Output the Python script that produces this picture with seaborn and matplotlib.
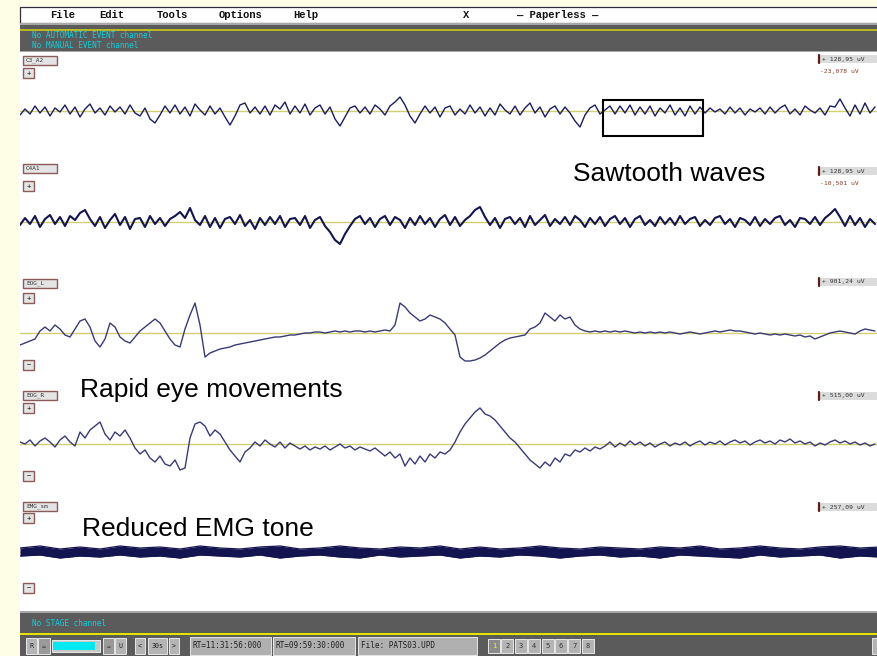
import numpy as np
import pandas as pd
import matplotlib
matplotlib.use("Agg")
import matplotlib.pyplot as plt
import seaborn as sns
from matplotlib.patches import Rectangle

sns.set_theme(style="white")
plt.rcParams['font.family'] = ['Liberation Sans', 'DejaVu Sans']

# ---------------- data ----------------
channels = ["C3_A2", "C4A1", "EOG_L", "EOG_R", "EMG_sm"]
scale_top = ["+ 128,95 uV", "+ 128,95 uV", "+ 901,24 uV", "+ 515,00 uV", "+ 257,09 uV"]
scale_low = ["-23,078 uV", "-10,501 uV", "", "", ""]
menu_items = ["File", "Edit", "Tools", "Options", "Help"]
time_boxes = ["RT=11:31:56:000", "RT=09:59:30:000", "File: PATS03.UPD"]
page_buttons = ["1", "2", "3", "4", "5", "6", "7", "8"]

c3_a2 = [-4, 2, -3, 5, -2, 4, -5, 3, -1, 6,
         -3, 4, -6, 2, 7, -2, 3, -4, 5, -1,
         4, -3, 6, -2, -5, 3, -8, -12, -4, 5,
         -2, 6, -3, 4, -5, 7, 1, -4, 5, -3,
         3, -6, -14, -5, 6, 8, -2, 4, -3, 5,
         -4, 6, 2, 9, -3, 5, -2, 7, -4, 3,
         6, -3, 4, -8, -15, -6, 3, 5, -2, 4,
         -3, 6, 2, -4, 5, 9, 14, 6, -5, -12,
         -3, 5, -2, 4, -6, 3, 5, -4, 2, -3,
         6, -2, 4, -5, 3, -4, 7, 1, -3, 5,
         -4, 3, 8, -2, 4, -6, 2, 5, -3, 4,
         -2, -10, -16, -4, 3, 6, -3, 1, 5, -3,
         5, -2, 6, -4, 4, -3, 5, -5, 3, -2,
         6, -4, 3, -5, 5, -3, 4, -2, 3, -1,
         2, -3, 4, -2, 3, -4, 2, -1, 3, -3,
         4, -2, 3, 6, -3, 2, -4, 5, 1, -2,
         3, -4, 5, 4, 12, 3, -5, 6, -3, 8,
         -2, 4]

c4_a1 = [-3, 4, -2, 6, -5, 3, 7, -2, 5, -4,
         6, 2, 9, 12, 3, -4, 5, -6, 2, 8,
         -3, 5, -7, 3, 4, -5, 6, -2, 4, -4,
         3, 6, 10, 4, 14, 2, -3, 6, -5, 4,
         -6, 3, 5, -2, 7, -4, 2, -7, 4, -3,
         5, -2, 6, -5, 3, 4, -3, 6, -6, 2,
         5, -4, -10, -18, -22, -12, -4, 3, 6, -2,
         4, -5, 3, 6, -3, 5, 2, -6, 4, -3,
         6, -2, 4, -5, 3, 7, -3, 5, -4, 2,
         6, 12, 15, 5, -3, 4, -6, 3, 5, -2,
         4, -5, 6, -3, 2, 7, -4, 3, -2, 5,
         -3, 6, 2, -5, 4, -2, 5, -4, 3, 6,
         -2, 4, -5, 3, 6, -3, 2, -4, 5, -2,
         4, -3, 6, -2, 3, 5, -4, 2, -3, 4,
         6, -2, 3, -5, 4, 2, -3, 5, -4, 3,
         -2, 4, 6, -3, 2, -5, 4, 3, -2, 5,
         -3, 4, 8, 13, 5, -4, 6, -3, 4, -5,
         3, -2]

eog_l = [-12, -10, -8, -6, 2, 6, 2, 8, 4, -2,
         -4, 4, 12, 14, 6, -8, -14, -6, 10, 6,
         -4, -8, -10, -4, 2, 6, 10, 14, 10, 2,
         -6, -12, -14, 4, 18, 30, 8, -24, -20, -18,
         -16, -15, -14, -12, -11, -10, -9, -8, -7, -6,
         -5, -4, -4, -3, -2, -2, -1, 0, 0, 1,
         1, 0, 1, 2, 1, 2, 1, 2, 2, 1,
         2, 1, 2, 3, 2, 8, 30, 26, 20, 16,
         12, 14, 18, 16, 14, 10, 4, -2, -24, -28,
         -28, -27, -25, -22, -18, -14, -10, -7, -5, -4,
         -3, -2, 4, 6, 10, 20, 16, 12, 18, 14,
         16, 8, 4, 2, 1, 2, 1, 2, 1, 2,
         1, 2, 1, 0, 1, 0, 1, 0, 1, 0,
         1, 0, -1, 0, 1, 0, -1, 0, 1, 2,
         1, 2, 3, 2, 2, 1, 0, -1, 0, -1,
         -2, -1, -2, -1, -2, -3, -2, -4, -3, -6,
         -4, -2, 0, 1, 2, 1, 0, -1, 2, 4,
         3, 2]

eog_r = [2, 0, 4, -2, 3, 6, 2, -3, 4, 8,
         2, -2, 12, 6, 14, 18, 22, 10, 4, 12,
         8, 14, 6, -4, -10, -6, -14, -18, -12, -20,
         -22, -16, -26, -24, 6, 20, 22, 18, 8, 14,
         10, 2, -6, -12, -18, -8, -4, 2, -2, 4,
         0, -3, 2, -4, 1, -2, -5, -2, -6, -3,
         -5, -2, -6, -3, 0, -4, -2, -6, -3, -5,
         -7, -4, -8, -12, -8, -14, -10, -22, -14, -20,
         -12, -18, -10, -14, -8, -10, -6, 2, 12, 20,
         26, 32, 36, 30, 28, 24, 18, 12, 6, 2,
         -4, -10, -16, -20, -24, -18, -22, -14, -18, -10,
         -12, -6, -8, -4, -7, -3, -5, -2, 2, -3,
         1, -2, 3, -1, 2, -2, 1, -3, 0, 2,
         -2, 1, -1, 2, -2, 1, 3, -1, 2, 0,
         3, -1, 2, 4, 1, 3, -1, 2, 4, 1,
         3, 0, 4, 2, 5, 1, 3, 0, 2, -2,
         1, -1, 2, 4, 1, 3, 0, 2, -1, 1,
         -2, 0]

emg_upper = [4, 6, 3, 5, 3, 6, 4, 5, 3, 6, 4, 3, 5, 6, 3, 4, 6, 4, 3, 5, 4, 6,
             3, 5, 3, 4, 6, 4, 3, 5, 4, 3, 5, 4, 6, 3, 4, 6, 4, 3, 5, 6, 4, 5]
emg_lower = [-4, -3, -6, -4, -5, -3, -5, -4, -6, -3, -4, -5, -3, -6, -4, -3, -5, -6, -3, -5, -4, -3,
             -6, -4, -5, -3, -4, -6, -4, -3, -5, -4, -6, -3, -4, -5, -6, -3, -5, -4, -3, -6, -4, -5]

# ---------------- figure ----------------
W, H = 878, 656
fig = plt.figure(figsize=(W / 100, H / 100), dpi=100)
fig.patch.set_facecolor("#fefee6")


def px_axes(x0, y0, w, h):
    return fig.add_axes([x0 / W, 1 - (y0 + h) / H, w / W, h / H])


bg = px_axes(0, 0, W, H)
bg.set_xlim(0, W)
bg.set_ylim(H, 0)
bg.axis("off")
bg.patch.set_alpha(0)


def rect(ax, x, y, w, h, fc, ec="none", lw=0.8, z=1):
    ax.add_patch(Rectangle((x, y), w, h, facecolor=fc, edgecolor=ec, linewidth=lw, zorder=z))


GRAY = "#5b5b5b"
CYAN = "#10d0dc"
mono = ["DejaVu Sans Mono"]

# window body
rect(bg, 20, 6, W - 20, H - 6, "white")
# menu bar
rect(bg, 20, 7, W - 20, 16, "white", ec="#303030", lw=0.9, z=2)
menu_x = [50, 99, 157, 219, 293]
for lab, x in zip(menu_items, menu_x):
    bg.text(x, 15.5, lab, family=["Liberation Mono"], fontweight="bold", fontsize=7.6,
            va="center", ha="left", color="#111111", zorder=3)
bg.text(463, 15.5, "X", family=["Liberation Mono"], fontweight="bold", fontsize=7.6,
        va="center", ha="left", color="#111111", zorder=3)
bg.text(517, 15.5, "— Paperless —", family=["Liberation Mono"], fontweight="bold", fontsize=7.6,
        va="center", ha="left", color="#111111", zorder=3)

# top gray event band
rect(bg, 20, 23, W - 20, 29, GRAY, z=2)
rect(bg, 20, 23, W - 20, 1.5, "#a8a8a8", z=3)
rect(bg, 20, 50.5, W - 20, 1.5, "#a8a8a8", z=3)
rect(bg, 20, 29, W - 20, 2.2, "#b8b820", z=3)
bg.text(32, 35, "No AUTOMATIC EVENT channel", family=mono, fontsize=5.6, color=CYAN,
        va="center", ha="left", zorder=4)
bg.text(32, 45, "No MANUAL EVENT channel", family=mono, fontsize=5.6, color=CYAN,
        va="center", ha="left", zorder=4)

# bottom gray band
rect(bg, 20, 611, W - 20, H - 611, GRAY, z=2)
rect(bg, 20, 611, W - 20, 1.5, "#a8a8a8", z=3)
rect(bg, 20, 633, W - 20, 2, "#e4e400", z=3)
bg.text(32, 624, "No STAGE channel", family=mono, fontsize=5.6, color=CYAN,
        va="center", ha="left", zorder=4)


def button(x, y, w, h, label="", fc="#b4b4b4", tc="#222222", fs=4.8):
    rect(bg, x, y, w, h, fc, ec="#e8e8e8", lw=0.7, z=4)
    if label:
        bg.text(x + w / 2, y + h / 2, label, family=mono, fontsize=fs, color=tc,
                ha="center", va="center", zorder=5)


by, bh = 638, 16
button(26, by, 11, bh, "R")
button(38, by, 12, bh, "⇦", fc="#9a9a9a")
rect(bg, 52, by + 2, 48, bh - 4, "#c8c8c8", ec="#e8e8e8", lw=0.7, z=4)
rect(bg, 53, by + 4, 42, bh - 8, "#00e8f0", z=5)
button(103, by, 11, bh, "⇨", fc="#9a9a9a")
button(115, by, 11, bh, "U")
button(135, by, 10, bh, "<")
button(148, by, 19, bh, "30s")
button(169, by, 10, bh, ">")
box_x = [190, 273, 358]
box_w = [81, 82, 119]
for lab, x, w in zip(time_boxes, box_x, box_w):
    button(x, by - 1, w, bh + 2, fc="#b0b0b0")
    bg.text(x + 3, by + bh / 2, lab, family=mono, fontsize=5.6, color="#202020",
            ha="left", va="center", zorder=5)
for i, lab in enumerate(page_buttons):
    button(488 + i * 13.4, by + 1, 12, bh - 2, lab,
           tc="#f0f000" if i == 0 else "#333333", fs=5,
           fc="#8a8a8a" if i == 0 else "#b4b4b4")
button(872, by, 8, bh)

# ---------------- traces ----------------
baselines = [111, 222, 333, 444, 552]
traces = [c3_a2, c4_a1, eog_l, eog_r]
colors = ["#1c1c5e", "#14144e", "#3a3a78", "#3a3a78"]
widths = [1.0, 1.5, 1.0, 1.0]
XMAX = 858 / 5

for vals, b, col, lw in zip(traces, baselines, colors, widths):
    ax = px_axes(20, b - 50, 858, 100)
    ax.patch.set_alpha(0)
    ax.axhline(0, color="#d0d070", linewidth=1.0, zorder=1)
    df = pd.DataFrame({"sample": np.arange(len(vals)), "uV": vals})
    sns.lineplot(data=df, x="sample", y="uV", ax=ax, color=col, linewidth=lw,
                 estimator=None, legend=False, zorder=3)
    ax.set_xlim(0, XMAX)
    ax.set_ylim(-50, 50)
    ax.axis("off")

# EMG band
ax = px_axes(20, baselines[4] - 50, 858, 100)
ax.patch.set_alpha(0)
ax.axhline(0, color="#d0d070", linewidth=1.0, zorder=1)
emg_df = pd.DataFrame({"sample": np.arange(len(emg_upper)) * 4,
                       "upper": emg_upper, "lower": emg_lower})
ax.fill_between(emg_df["sample"], emg_df["lower"], emg_df["upper"], color="#141450",
                linewidth=0, zorder=2)
sns.lineplot(data=emg_df, x="sample", y="upper", ax=ax, color="#141450", linewidth=0.9,
             estimator=None, legend=False, zorder=3)
sns.lineplot(data=emg_df, x="sample", y="lower", ax=ax, color="#141450", linewidth=0.9,
             estimator=None, legend=False, zorder=3)
ax.set_xlim(0, XMAX)
ax.set_ylim(-50, 50)
ax.axis("off")

# ---------------- overlay: labels & annotations ----------------
ov = px_axes(0, 0, W, H)
ov.set_xlim(0, W)
ov.set_ylim(H, 0)
ov.axis("off")
ov.patch.set_alpha(0)

label_y = [60, 168, 283, 395, 506]
plus_y = [68, 181, 293, 403, 513]
minus_y = [None, None, 360, 471, 583]
right_y = [59, 171, 282, 396, 507]

for name, ly, py, my in zip(channels, label_y, plus_y, minus_y):
    ov.add_patch(Rectangle((23, ly - 4.5), 34, 9, facecolor="#e4e4e4",
                           edgecolor="#8c5a5a", linewidth=1.0, zorder=5))
    ov.text(26, ly, name, family=mono, fontsize=4.3, color="#333333",
            ha="left", va="center", zorder=6)
    ov.add_patch(Rectangle((23, py), 11, 10, facecolor="#e4e4e4",
                           edgecolor="#8c5a5a", linewidth=1.0, zorder=5))
    ov.text(28.5, py + 5, "+", family=mono, fontsize=5, color="#222222",
            ha="center", va="center", zorder=6)
    if my is not None:
        ov.add_patch(Rectangle((23, my), 11, 10, facecolor="#e4e4e4",
                               edgecolor="#8c5a5a", linewidth=1.0, zorder=5))
        ov.text(28.5, my + 5, "−", family=mono, fontsize=5, color="#222222",
                ha="center", va="center", zorder=6)

for top, low, ry in zip(scale_top, scale_low, right_y):
    ov.add_patch(Rectangle((819, ry - 4), 60, 8, facecolor="#dcdcdc",
                           edgecolor="none", zorder=5))
    ov.plot([819, 819], [ry - 4, ry + 4], color="#5a1e1e", linewidth=1.6, zorder=6)
    ov.text(822, ry, top, family=mono, fontsize=4.6, color="#333333",
            ha="left", va="center", zorder=6)
    if low:
        ov.text(820, ry + 12, low, family=mono, fontsize=4.6, color="#8a3a2a",
                ha="left", va="center", zorder=6)

ov.add_patch(Rectangle((603, 100), 100, 36, facecolor="none", edgecolor="black",
                       linewidth=1.5, zorder=7))
ov.text(573, 181, "Sawtooth waves", fontsize=19, color="black",
        ha="left", va="baseline", zorder=7)
ov.text(80, 397, "Rapid eye movements", fontsize=19, color="black",
        ha="left", va="baseline", zorder=7)
ov.text(82, 536, "Reduced EMG tone", fontsize=19, color="black",
        ha="left", va="baseline", zorder=7)

fig.savefig("out.png", dpi=100, facecolor=fig.get_facecolor())
